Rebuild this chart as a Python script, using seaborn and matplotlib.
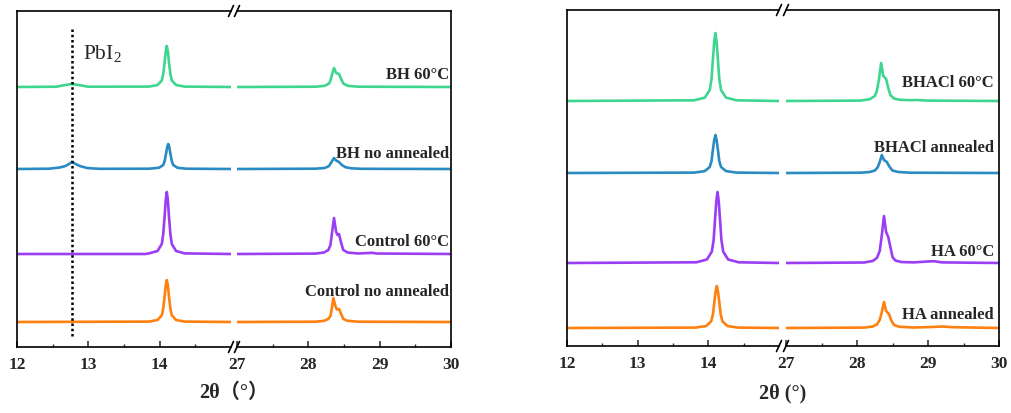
import matplotlib
matplotlib.use("Agg")
import matplotlib.pyplot as plt
import seaborn as sns
from matplotlib.lines import Line2D
from matplotlib.ticker import FixedLocator

# ---------------- data ----------------
# intensities above each pattern's own baseline (arbitrary units)
# Left panel
bh60_lo_x = [12.00, 12.55, 12.68, 12.77, 12.86, 13.00, 13.85, 13.97, 14.03, 14.05, 14.07, 14.085, 14.10, 14.115, 14.13, 14.15, 14.17, 14.23, 14.35, 15.00]
bh60_lo_y = [0, 0.3, 2, 3, 2, 0.3, 0.4, 2, 6.5, 13, 25, 35.7, 41, 35.7, 25, 13, 6.5, 2, 0.4, 0]
bh60_hi_x = [27.00, 28.10, 28.23, 28.29, 28.31, 28.33, 28.36, 28.39, 28.43, 28.46, 28.49, 28.55, 28.70, 30.00]
bh60_hi_y = [0, 0.3, 1.2, 3.5, 6.5, 12, 19, 14, 13, 8, 3.5, 1.2, 0.3, 0]

bhno_lo_x = [12.00, 12.45, 12.60, 12.68, 12.74, 12.77, 12.81, 12.88, 12.98, 13.15, 13.85, 13.99, 14.05, 14.07, 14.09, 14.105, 14.12, 14.135, 14.15, 14.17, 14.19, 14.25, 14.37, 15.00]
bhno_lo_y = [0, 0.3, 1.5, 3, 5.5, 7, 5.5, 3, 1, 0.2, 0.3, 1.2, 4, 8, 15.5, 21.8, 25, 21.8, 15.5, 8, 4, 1.2, 0.3, 0]
bhno_hi_x = [27.00, 28.10, 28.23, 28.29, 28.32, 28.36, 28.39, 28.43, 28.47, 28.52, 28.60, 28.75, 30.00]
bhno_hi_y = [0, 0.3, 1, 3, 6.5, 11, 8.5, 7, 4, 1.8, 0.7, 0.2, 0]

ctl60_lo_x = [12.00, 13.80, 13.85, 13.97, 14.03, 14.05, 14.07, 14.085, 14.10, 14.115, 14.13, 14.15, 14.17, 14.23, 14.35, 15.00]
ctl60_lo_y = [0, 0, 0.6, 3, 10, 20, 38, 54, 62, 54, 38, 20, 10, 3, 0.6, 0]
ctl60_hi_x = [27.00, 28.10, 28.22, 28.28, 28.31, 28.33, 28.36, 28.39, 28.41, 28.43, 28.46, 28.49, 28.55, 28.70, 28.85, 28.90, 28.95, 30.00]
ctl60_hi_y = [0, 0.4, 1.5, 4, 9, 20, 36, 22, 19, 20, 11, 4, 1.5, 0.5, 1, 1.2, 0.5, 0]

ctlno_lo_x = [12.00, 13.85, 13.97, 14.03, 14.05, 14.07, 14.085, 14.10, 14.115, 14.13, 14.15, 14.17, 14.23, 14.35, 15.00]
ctlno_lo_y = [0, 0.4, 2, 6.7, 13.5, 26, 36.5, 42, 36.5, 26, 13.5, 6.7, 2, 0.4, 0]
ctlno_hi_x = [27.00, 28.10, 28.22, 28.28, 28.31, 28.33, 28.35, 28.38, 28.40, 28.43, 28.46, 28.49, 28.55, 28.70, 30.00]
ctlno_hi_y = [0, 0.3, 1.2, 3, 6, 14, 24, 16, 12.5, 13, 8, 3, 1.2, 0.3, 0]

# Right panel
bhacl60_lo_x = [12.00, 13.80, 13.95, 14.02, 14.045, 14.065, 14.083, 14.10, 14.117, 14.135, 14.155, 14.18, 14.25, 14.40, 15.00]
bhacl60_lo_y = [0, 0.7, 3.4, 11, 22, 42, 59, 68, 59, 42, 22, 11, 3.4, 0.7, 0]
bhacl60_hi_x = [27.00, 28.05, 28.18, 28.25, 28.28, 28.31, 28.34, 28.37, 28.41, 28.44, 28.47, 28.52, 28.60, 28.75, 28.85, 29.00, 30.00]
bhacl60_hi_y = [0, 0.4, 1.8, 5, 10, 22, 38, 25, 22, 13, 6, 2.5, 1.2, 0.8, 1, 0.4, 0]

bhaclan_lo_x = [12.00, 13.80, 13.95, 14.02, 14.045, 14.065, 14.083, 14.10, 14.117, 14.135, 14.155, 14.18, 14.25, 14.40, 15.00]
bhaclan_lo_y = [0, 0.4, 1.9, 6, 12, 23.5, 33, 38, 33, 23.5, 12, 6, 1.9, 0.4, 0]
bhaclan_hi_x = [27.00, 28.05, 28.18, 28.25, 28.29, 28.32, 28.35, 28.38, 28.42, 28.46, 28.50, 28.58, 28.75, 30.00]
bhaclan_hi_y = [0, 0.3, 1, 2.5, 5.5, 11, 18, 13, 11, 6, 2.5, 1, 0.3, 0]

ha60_lo_x = [12.00, 13.83, 13.98, 14.05, 14.075, 14.095, 14.113, 14.13, 14.147, 14.165, 14.185, 14.21, 14.28, 14.43, 15.00]
ha60_lo_y = [0, 0.7, 3.5, 11.5, 23, 44, 62, 71, 62, 44, 23, 11.5, 3.5, 0.7, 0]
ha60_hi_x = [27.00, 28.10, 28.22, 28.28, 28.32, 28.35, 28.38, 28.41, 28.44, 28.47, 28.50, 28.54, 28.62, 28.80, 29.00, 29.08, 29.20, 30.00]
ha60_hi_y = [0, 0.5, 2, 5, 12, 28, 47, 31, 26, 16, 6, 2.5, 1, 0.6, 1.5, 1.8, 0.6, 0]

haan_lo_x = [12.00, 13.82, 13.97, 14.04, 14.065, 14.085, 14.103, 14.12, 14.137, 14.155, 14.175, 14.20, 14.27, 14.42, 15.00]
haan_lo_y = [0, 0.4, 2, 6.7, 13.5, 26, 36.5, 42, 36.5, 26, 13.5, 6.7, 2, 0.4, 0]
haan_hi_x = [27.00, 28.10, 28.22, 28.28, 28.32, 28.35, 28.38, 28.41, 28.45, 28.48, 28.52, 28.60, 28.80, 29.05, 29.20, 29.35, 30.00]
haan_hi_y = [0, 0.4, 1.5, 3.5, 8, 16, 26, 17, 14, 8, 3, 1.2, 0.5, 1, 1.5, 0.8, 0]

left_labels = ["BH 60\u00b0C", "BH no annealed", "Control 60\u00b0C", "Control no annealed"]
right_labels = ["BHACl 60\u00b0C", "BHACl annealed", "HA 60\u00b0C", "HA annealed"]
left_offsets = [260, 178, 93, 25]
right_offsets = [245, 173, 83, 18]
pbi2_position = 12.77
lo_ticks = [12, 13, 14]
hi_ticks = [27, 28, 29, 30]
lo_minor = [12.5, 13.5, 14.5]
hi_minor = [27.5, 28.5, 29.5]

colors = ["#3dd68f", "#2a8bc2", "#9b3df5", "#ff800e"]

# ---------------- figure ----------------
sns.set_style("ticks")
plt.rcParams['font.family'] = ['Liberation Serif', 'Noto Sans CJK SC', 'DejaVu Sans']
plt.rcParams['mathtext.fontset'] = 'custom'
plt.rcParams['mathtext.rm'] = 'Liberation Serif'
plt.rcParams['mathtext.it'] = 'Liberation Serif:italic'
plt.rcParams['mathtext.bf'] = 'Liberation Serif:bold'

W, H = 1012, 414
fig = plt.figure(figsize=(W / 100, H / 100), dpi=100)


def make_axes(l1, r1, l2, r2, top, bottom):
    ax1 = fig.add_axes([l1 / W, 1 - bottom / H, (r1 - l1) / W, (bottom - top) / H])
    ax2 = fig.add_axes([l2 / W, 1 - bottom / H, (r2 - l2) / W, (bottom - top) / H])
    for ax, lim, maj, mnr in ((ax1, (12, 15), lo_ticks, lo_minor), (ax2, (27, 30), hi_ticks, hi_minor)):
        ax.set_xlim(*lim)
        ax.set_ylim(0, bottom - top)
        ax.xaxis.set_major_locator(FixedLocator(maj))
        ax.xaxis.set_minor_locator(FixedLocator(mnr))
        ax.set_yticks([])
        ax.tick_params(axis='x', which='major', direction='in', length=4.5, width=1.1,
                       labelsize=12.5, pad=6.5, top=False)
        ax.tick_params(axis='x', which='minor', direction='in', length=2.5, width=1.0, top=False)
        for sp in ax.spines.values():
            sp.set_linewidth(1.2)
            sp.set_color('black')
        ax.set_facecolor('none')
    ax1.spines['right'].set_visible(False)
    ax2.spines['left'].set_visible(False)
    # break marks
    for xpix in (r1, l2):
        for ypix in (top, bottom):
            fig.add_artist(Line2D([(xpix - 2.5) / W, (xpix + 2.5) / W],
                                  [1 - (ypix + 5.5) / H, 1 - (ypix - 5.5) / H],
                                  transform=fig.transFigure, color='black', lw=1.2))
    return ax1, ax2


def draw(ax1, ax2, series, offsets):
    for (lx, ly, hx, hy), off, col in zip(series, offsets, colors):
        sns.lineplot(x=lx, y=[v + off for v in ly], ax=ax1, color=col, lw=1.9,
                     estimator=None, sort=False)
        sns.lineplot(x=hx, y=[v + off for v in hy], ax=ax2, color=col, lw=1.9,
                     estimator=None, sort=False)
    for ax in (ax1, ax2):
        ax.set_xlabel('')
        ax.set_ylabel('')


# Left panel
la1, la2 = make_axes(17, 231, 237, 451, 12, 348)
draw(la1, la2, [(bh60_lo_x, bh60_lo_y, bh60_hi_x, bh60_hi_y),
                (bhno_lo_x, bhno_lo_y, bhno_hi_x, bhno_hi_y),
                (ctl60_lo_x, ctl60_lo_y, ctl60_hi_x, ctl60_hi_y),
                (ctlno_lo_x, ctlno_lo_y, ctlno_hi_x, ctlno_hi_y)], left_offsets)
la1.axvline(pbi2_position, ymin=0.033, ymax=0.95, color='black', lw=1.8, ls=(0, (1, 1.1)))
la1.text(pbi2_position + 0.15, 289, "PbI$_2$", fontsize=15.5, ha='left', va='baseline')
for lab, yv in zip(left_labels, [273, 194, 106, 56]):
    la2.text(29.97, yv, lab, ha='right', va='center', fontsize=12, fontweight='bold')

# Right panel
ra1, ra2 = make_axes(567, 779, 786, 999, 11, 347)
draw(ra1, ra2, [(bhacl60_lo_x, bhacl60_lo_y, bhacl60_hi_x, bhacl60_hi_y),
                (bhaclan_lo_x, bhaclan_lo_y, bhaclan_hi_x, bhaclan_hi_y),
                (ha60_lo_x, ha60_lo_y, ha60_hi_x, ha60_hi_y),
                (haan_lo_x, haan_lo_y, haan_hi_x, haan_hi_y)], right_offsets)
for lab, yv in zip(right_labels, [264, 199, 95, 32]):
    ra2.text(29.93, yv, lab, ha='right', va='center', fontsize=12, fontweight='bold')

for ax in (la1, la2, ra1, ra2):
    for lab in ax.get_xticklabels():
        lab.set_fontweight('bold')

fig.text(234 / W, 1 - 393 / H, "2\u03b8\uff08\u00b0\uff09", ha='center', va='center',
         fontsize=14.5, fontweight='bold')
fig.text(783 / W, 1 - 393 / H, "2\u03b8 (\u00b0)", ha='center', va='center',
         fontsize=14.5, fontweight='bold')

fig.savefig("out.png", dpi=100)
